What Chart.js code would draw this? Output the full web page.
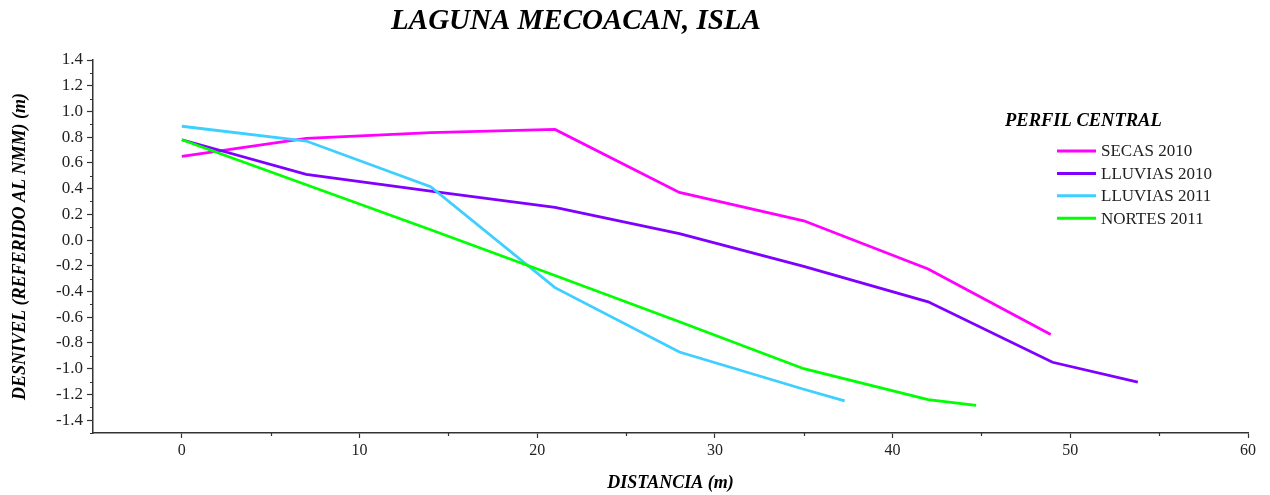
<!DOCTYPE html>
<html><head><meta charset="utf-8">
<script src="https://cdn.jsdelivr.net/npm/chart.js@4/dist/chart.umd.min.js"></script>
<style>html,body{margin:0;padding:0;background:#fff;overflow:hidden}#wrap{width:1270px;height:495px;position:relative}</style>
</head><body><div id="wrap"><canvas id="c" width="1270" height="495"></canvas></div>
<script>
const titleText = 'LAGUNA MECOACAN, ISLA';
const xAxisTitle = 'DISTANCIA (m)';
const yAxisTitle = 'DESNIVEL (REFERIDO AL NMM) (m)';
const legendTitle = 'PERFIL CENTRAL';
const seriesNames = ['SECAS 2010', 'LLUVIAS 2010', 'LLUVIAS 2011', 'NORTES 2011'];
const seriesColors = ['#FF00FF', '#7F00FF', '#3CCFFF', '#00FF00'];

const secas2010X = [0, 7, 14, 21, 28, 35, 42, 48.9];
const secas2010Y = [0.65, 0.79, 0.835, 0.86, 0.37, 0.15, -0.225, -0.735];
const lluvias2010X = [0, 7, 14, 21, 28, 35, 42, 49, 53.8];
const lluvias2010Y = [0.78, 0.51, 0.38, 0.255, 0.05, -0.205, -0.48, -0.95, -1.105];
const lluvias2011X = [0, 7, 14, 21, 28, 35, 37.3];
const lluvias2011Y = [0.885, 0.77, 0.415, -0.37, -0.87, -1.16, -1.25];
const nortes2011X = [0, 7, 14, 21, 28, 35, 42, 44.7];
const nortes2011Y = [0.78, 0.43, 0.08, -0.275, -0.635, -1.0, -1.24, -1.285];

const xTickValues = [0, 10, 20, 30, 40, 50, 60];
const xMinorTicks = [5, 15, 25, 35, 45, 55];
const yTickValues = [-1.4, -1.2, -1.0, -0.8, -0.6, -0.4, -0.2, 0.0, 0.2, 0.4, 0.6, 0.8, 1.0, 1.2, 1.4];
const yMinorTicks = [-1.5, -1.3, -1.1, -0.9, -0.7, -0.5, -0.3, -0.1, 0.1, 0.3, 0.5, 0.7, 0.9, 1.1, 1.3];

const seriesX = [secas2010X, lluvias2010X, lluvias2011X, nortes2011X];
const seriesY = [secas2010Y, lluvias2010Y, lluvias2011Y, nortes2011Y];
const drawOrder = [3, 2, 1, 0];

const SERIF = '"Liberation Serif", "DejaVu Serif", serif';
const AXIS_COLOR = '#333';

const datasets = seriesNames.map((name, i) => ({
  label: name,
  data: seriesX[i].map((x, j) => ({ x: x, y: seriesY[i][j] })),
  borderColor: seriesColors[i],
  backgroundColor: seriesColors[i],
  borderWidth: 2.8,
  pointRadius: 0,
  tension: 0,
  fill: false,
  order: drawOrder[i]
}));

const extrasPlugin = {
  id: 'extras',
  afterDraw(chart) {
    const ctx = chart.ctx;
    const xs = chart.scales.x, ys = chart.scales.y;
    const area = chart.chartArea;
    ctx.save();
    ctx.strokeStyle = AXIS_COLOR;
    ctx.lineWidth = 1.2;
    ctx.beginPath();
    yMinorTicks.forEach(v => {
      const py = Math.round(ys.getPixelForValue(v)) + 0.5;
      ctx.moveTo(area.left - 3, py); ctx.lineTo(area.left, py);
    });
    xMinorTicks.forEach(v => {
      const px = Math.round(xs.getPixelForValue(v)) + 0.5;
      ctx.moveTo(px, area.bottom); ctx.lineTo(px, area.bottom + 3);
    });
    ctx.stroke();
    ctx.fillStyle = '#000';
    ctx.font = 'bold italic 29px ' + SERIF;
    ctx.textAlign = 'center';
    ctx.textBaseline = 'middle';
    ctx.fillText(titleText, 576, 22);
    ctx.textAlign = 'left';
    ctx.font = 'bold italic 18.5px ' + SERIF;
    ctx.fillText(legendTitle, 1005, 121);
    ctx.font = '17px ' + SERIF;
    seriesNames.forEach((name, i) => {
      const y = 151 + i * 22.4;
      ctx.strokeStyle = seriesColors[i];
      ctx.lineWidth = 3;
      ctx.beginPath(); ctx.moveTo(1057, y); ctx.lineTo(1096, y); ctx.stroke();
      ctx.fillStyle = '#222';
      ctx.fillText(name, 1101, y + 1);
    });
    ctx.restore();
  }
};

new Chart(document.getElementById('c'), {
  type: 'line',
  data: { datasets: datasets },
  plugins: [extrasPlugin],
  options: {
    responsive: false,
    animation: false,
    devicePixelRatio: 1,
    layout: { padding: { top: 60, right: 22, left: 0, bottom: 0 } },
    plugins: { legend: { display: false }, tooltip: { enabled: false }, title: { display: false } },
    scales: {
      x: {
        type: 'linear',
        min: -5, max: 60,
        afterFit: s => { s.height = 62; },
        afterBuildTicks: s => { s.ticks = xTickValues.map(v => ({ value: v })); },
        border: { display: true, color: AXIS_COLOR, width: 1.5 },
        grid: { display: true, drawOnChartArea: false, drawTicks: true, tickLength: 5, tickColor: AXIS_COLOR, tickWidth: 1.2 },
        ticks: { color: '#222', font: { family: SERIF, size: 16 }, padding: 3, maxRotation: 0, callback: v => String(v) },
        title: { display: true, text: xAxisTitle, color: '#000', font: { family: SERIF, size: 18, weight: 'bold', style: 'italic' }, padding: { top: 0, bottom: 1 } }
      },
      y: {
        type: 'linear',
        min: -1.5, max: 1.4,
        afterFit: s => { s.width = 93; },
        afterBuildTicks: s => { s.ticks = yTickValues.map(v => ({ value: v })); },
        border: { display: true, color: AXIS_COLOR, width: 1.5 },
        grid: { display: true, drawOnChartArea: false, drawTicks: true, tickLength: 6, tickColor: AXIS_COLOR, tickWidth: 1.2 },
        ticks: { color: '#222', font: { family: SERIF, size: 17 }, padding: 4, callback: v => Number(v).toFixed(1) },
        title: { display: true, text: yAxisTitle, color: '#000', font: { family: SERIF, size: 18, weight: 'bold', style: 'italic' }, padding: { top: 10, bottom: 0 } }
      }
    }
  }
});
</script>
</body></html>
